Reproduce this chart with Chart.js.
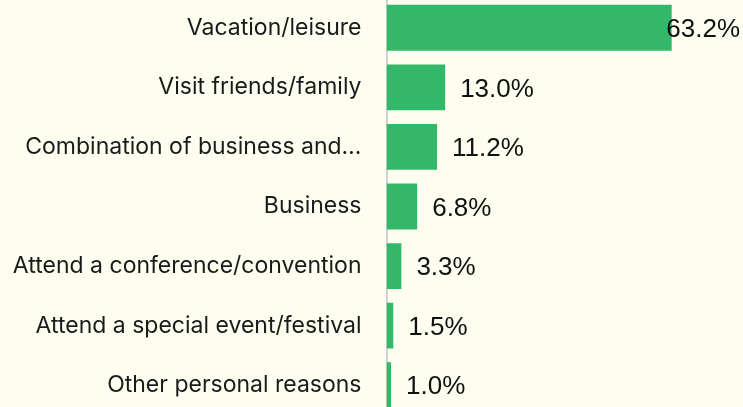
<!DOCTYPE html>
<html>
<head>
<meta charset="utf-8">
<script src="https://cdn.jsdelivr.net/npm/chart.js@4"></script>
<style>
  html, body { margin: 0; padding: 0; background: #fdfef0; overflow: hidden; }
  #wrap { position: relative; width: 743px; height: 417px; margin-top: -2px; }
</style>
</head>
<body>
<div id="wrap"><canvas id="tripChart"></canvas></div>
<script>
// purpose of trip categories and shares (%)
const categories = [
    "Vacation/leisure",
    "Visit friends/family",
    "Combination of business and\u2026",
    "Business",
    "Attend a conference/convention",
    "Attend a special event/festival",
    "Other personal reasons"
];
const shares = [63.2, 13.0, 11.2, 6.8, 3.3, 1.5, 1.0];

const barColor = "#33b86a";
const labelFont = "Inter, 'Noto Sans', sans-serif";
const valueFont = "'Liberation Sans', Arial, sans-serif";

// draw value labels to the right of each bar
const valueLabels = {
    id: "valueLabels",
    afterDatasetsDraw(chart) {
        const ctx = chart.ctx;
        const meta = chart.getDatasetMeta(0);
        ctx.save();
        ctx.font = "26px " + valueFont;
        ctx.fillStyle = "#111";
        ctx.textBaseline = "middle";
        meta.data.forEach((bar, i) => {
            const text = shares[i].toFixed(1) + "%";
            const w = ctx.measureText(text).width;
            let x = bar.x + 15;
            if (x + w > chart.width - 3) x = chart.width - 3 - w;
            ctx.fillText(text, x, bar.y + 2);
        });
        ctx.restore();
    }
};

new Chart(document.getElementById("tripChart"), {
    type: "bar",
    data: {
        labels: categories,
        datasets: [{
            data: shares,
            backgroundColor: barColor,
            categoryPercentage: 1,
            barPercentage: 0.77
        }]
    },
    options: {
        indexAxis: "y",
        responsive: true,
        maintainAspectRatio: false,
        animation: false,
        layout: { padding: 0 },
        plugins: {
            legend: { display: false },
            tooltip: { enabled: false }
        },
        scales: {
            x: {
                display: false,
                min: 0,
                max: 79
            },
            y: {
                grid: { display: false, drawTicks: false },
                border: { color: "#d2d2d2", width: 2 },
                ticks: {
                    color: "#1a1a1a",
                    padding: 25,
                    font: { family: labelFont, size: 23 }
                },
                afterFit(scale) {
                    // no extra space above/below, fixed label column
                    scale.paddingTop = 0;
                    scale.paddingBottom = 0;
                    scale.width = 386.5;
                }
            }
        }
    },
    plugins: [valueLabels]
});
</script>
</body>
</html>
